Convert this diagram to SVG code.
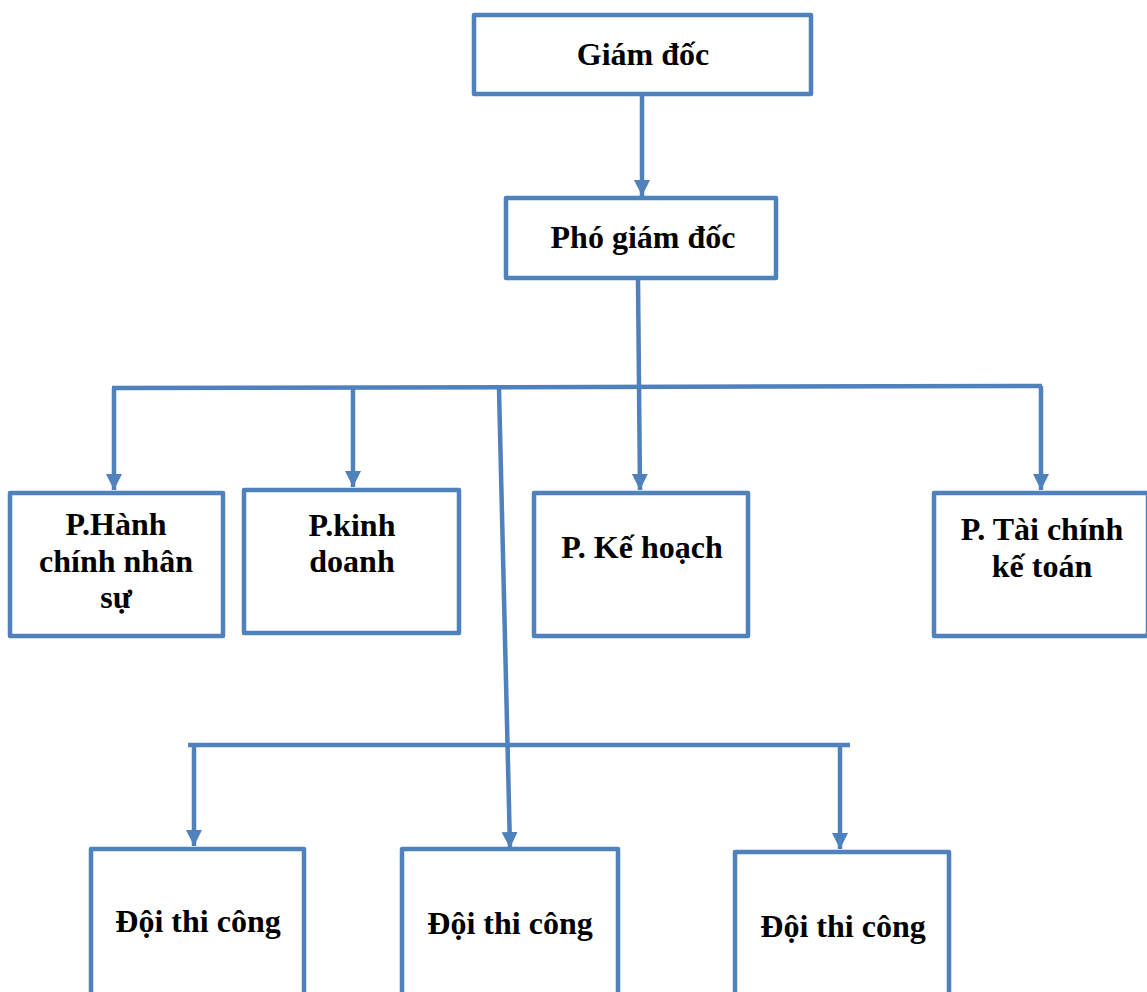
<svg xmlns="http://www.w3.org/2000/svg" width="1147" height="992" viewBox="0 0 1147 992">
<style>
.box{fill:#fff;stroke:#4F81BD;stroke-width:4.5;stroke-linejoin:round}
.ln{fill:none;stroke:#4F81BD;stroke-width:4.5}
.t{font-family:"Liberation Serif","Times New Roman",serif;font-weight:bold;font-size:32px;fill:#000;text-anchor:middle}
</style>
<defs>
<marker id="ah" markerUnits="userSpaceOnUse" markerWidth="18" markerHeight="18" viewBox="0 0 18 18" refX="16" refY="9" orient="auto">
<path d="M0,1 L16,9 L0,17 Z" fill="#4F81BD"/>
</marker>
</defs>
<rect width="1147" height="992" fill="#fff"/>
<g id="connectors">
<path class="ln" d="M642,96 L642,196" marker-end="url(#ah)"/>
<path class="ln" d="M638,280 L640,490" marker-end="url(#ah)"/>
<path class="ln" d="M112,388 L1042,386"/>
<path class="ln" d="M114,388 L114,490" marker-end="url(#ah)"/>
<path class="ln" d="M353,388 L353,487" marker-end="url(#ah)"/>
<path class="ln" d="M1041,386 L1041,490" marker-end="url(#ah)"/>
<path class="ln" d="M499,389 L510,848" marker-end="url(#ah)"/>
<path class="ln" d="M188,745 L850,745"/>
<path class="ln" d="M194,745 L194,846" marker-end="url(#ah)"/>
<path class="ln" d="M840,745 L840,849" marker-end="url(#ah)"/>
</g>
<g id="giam-doc">
<rect class="box" x="474" y="15" width="337" height="79"/>
<text class="t" x="643" y="65">Giám đốc</text>
</g>
<g id="pho-giam-doc">
<rect class="box" x="506" y="198" width="270" height="80"/>
<text class="t" x="643" y="248">Phó giám đốc</text>
</g>
<g id="p-hanh-chinh">
<rect class="box" x="10" y="493" width="213" height="143"/>
<text class="t" x="116" y="535">P.Hành</text>
<text class="t" x="116" y="572">chính nhân</text>
<text class="t" x="116" y="608">sự</text>
</g>
<g id="p-kinh-doanh">
<rect class="box" x="244" y="490" width="215" height="143"/>
<text class="t" x="352" y="536">P.kinh</text>
<text class="t" x="352" y="572">doanh</text>
</g>
<g id="p-ke-hoach">
<rect class="box" x="534" y="493" width="214" height="143"/>
<text class="t" x="642" y="558">P. Kế hoạch</text>
</g>
<g id="p-tai-chinh">
<rect class="box" x="934" y="493" width="214" height="143"/>
<text class="t" x="1042" y="540">P. Tài chính</text>
<text class="t" x="1042" y="577">kế toán</text>
</g>
<g id="doi-thi-cong-1">
<rect class="box" x="91" y="849" width="213" height="160"/>
<text class="t" x="198" y="932">Đội thi công</text>
</g>
<g id="doi-thi-cong-2">
<rect class="box" x="402" y="849" width="216" height="160"/>
<text class="t" x="510" y="934">Đội thi công</text>
</g>
<g id="doi-thi-cong-3">
<rect class="box" x="735" y="852" width="214" height="160"/>
<text class="t" x="843" y="937">Đội thi công</text>
</g>
</svg>
